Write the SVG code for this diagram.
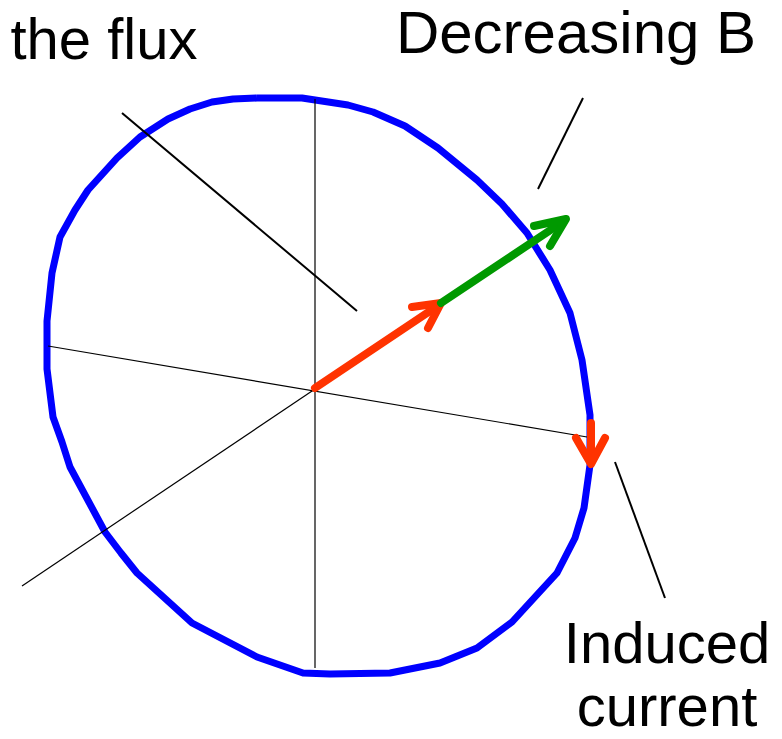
<svg xmlns="http://www.w3.org/2000/svg" width="782" height="739" viewBox="0 0 782 739">
<style>
.lbl{font-family:"Liberation Sans",Arial,sans-serif;font-size:58px;fill:#000}
.thin{stroke:#000;stroke-width:1.2;fill:none}
.lead{stroke:#000;stroke-width:2;fill:none}
.arr{fill:none;stroke-width:8;stroke-linecap:round;stroke-linejoin:round}
</style>
<rect width="782" height="739" fill="#fff"/>
<g id="loop">
<polyline fill="none" stroke="#0000ff" stroke-width="7" stroke-linejoin="round" points="257,98 302,98 348,105 373,112 405,126 438,148 477,180 502,204 527,233 550,270 570,313 582,360 590,415 590,465 584,508 575,538 557,573 512,622 477,648 440,663 390,673 330,674 303,673 257,657 192,623 137,573 121,553 105,532 70,467 62,442 53,417 47,369 47,321 52,273 60,237 75,210 88,190 117,158 140,137 168,119 190,109 212,102 233,99 257,98"/>
</g>
<g id="axes">
<line class="thin" x1="315" y1="99" x2="315" y2="668"/>
<line class="thin" x1="48" y1="346" x2="587" y2="437"/>
<line class="thin" x1="22" y1="586" x2="315" y2="389"/>
</g>
<g id="connectors">
<line class="lead" x1="122" y1="113" x2="357" y2="311"/>
<line class="lead" x1="583" y1="98" x2="538" y2="189"/>
<line class="lead" x1="615" y1="462" x2="665" y2="598"/>
</g>
<g id="arrow-red">
<line class="arr" stroke="#ff3300" stroke-linecap="butt" x1="315" y1="388" x2="439" y2="305"/>
<polyline class="arr" stroke="#ff3300" points="412,307 441,303 428,328"/>
</g>
<g id="arrow-green">
<line class="arr" stroke="#009900" stroke-linecap="butt" x1="441" y1="303" x2="564" y2="221"/>
<polyline class="arr" stroke="#009900" points="534,226 566,219 550,246"/>
</g>
<g id="arrow-current">
<line class="arr" stroke="#ff3300" stroke-linecap="butt" x1="591" y1="423" x2="591" y2="462"/>
<polyline class="arr" stroke="#ff3300" points="576,438 591,464 605,438"/>
</g>
<g id="label-flux"><text class="lbl" x="104" y="59" text-anchor="middle">the flux</text></g>
<g id="label-B"><text class="lbl" x="576" y="53" text-anchor="middle" style="font-size:60px">Decreasing B</text></g>
<g id="label-current"><text class="lbl" x="667" y="663" text-anchor="middle">Induced</text><text class="lbl" x="667" y="726" text-anchor="middle">current</text></g>
</svg>
